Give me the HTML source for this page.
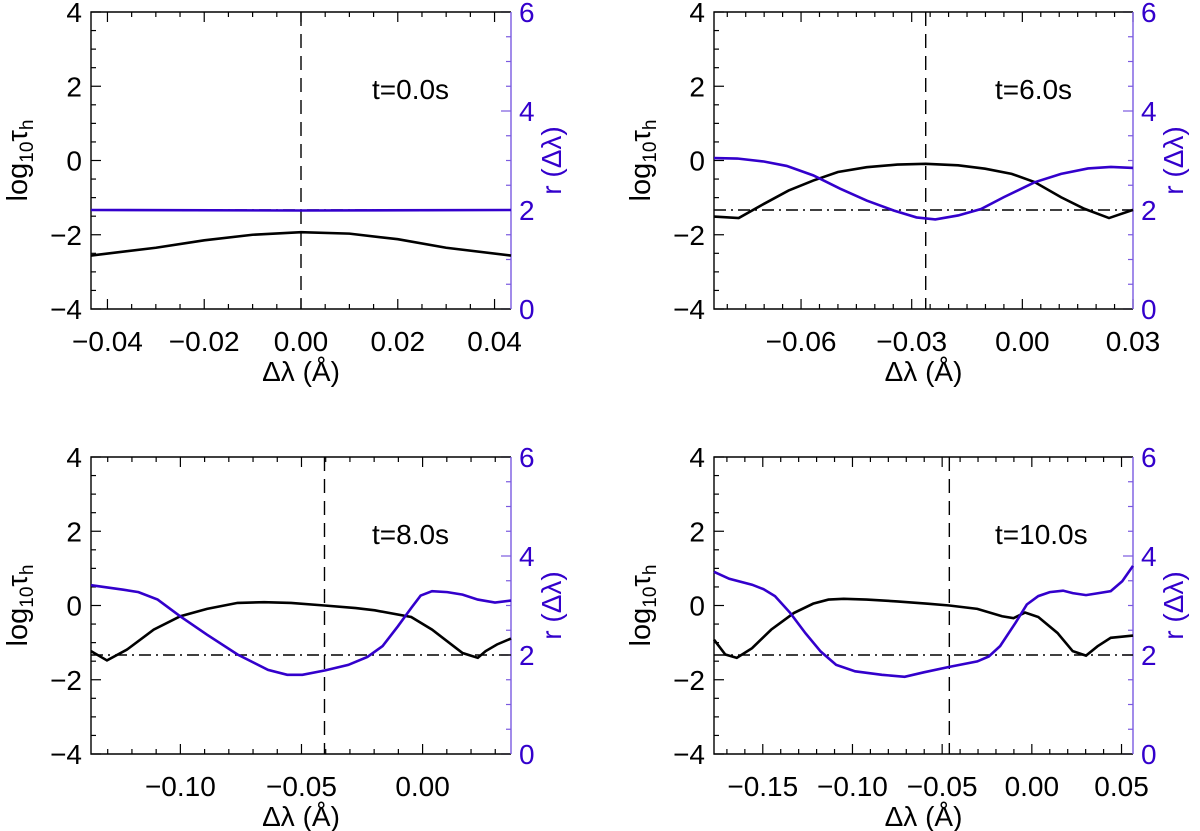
<!DOCTYPE html>
<html><head><meta charset="utf-8">
<style>
body{margin:0;background:#fff;}
svg{display:block;font-family:"Liberation Sans",Arial,sans-serif;}
</style></head>
<body>
<svg id="fig" width="1200" height="831" viewBox="0 0 1200 831" xmlns="http://www.w3.org/2000/svg"></svg>
<script>
// ---- data ----
const p1Xticks = [-0.04,-0.02,0.00,0.02,0.04];
const p1TauX = [-0.0434,-0.03,-0.02,-0.01,0,0.01,0.02,0.03,0.0434];
const p1TauY = [-2.56,-2.35,-2.15,-2.0,-1.93,-1.97,-2.12,-2.35,-2.56];
const p1RX = [-0.0434,0,0.0434];
const p1RY = [2.0,1.99,2.0];

const p2Xticks = [-0.06,-0.03,0.00,0.03];
const p2TauX = [-0.0836,-0.0769,-0.0701,-0.0634,-0.0567,-0.05,-0.0422,-0.0339,-0.0262,-0.0174,-0.0101,-0.0029,0.0033,0.0105,0.0168,0.0235,0.03];
const p2TauY = [-1.51,-1.55,-1.17,-0.81,-0.54,-0.31,-0.18,-0.11,-0.09,-0.13,-0.22,-0.36,-0.58,-0.99,-1.30,-1.55,-1.33];
const p2RX = [-0.0836,-0.0773,-0.0701,-0.0639,-0.0567,-0.0494,-0.0422,-0.0349,-0.0287,-0.0236,-0.0174,-0.0112,-0.0050,0.0033,0.0105,0.0178,0.0240,0.03];
const p2RY = [3.05,3.04,2.98,2.89,2.70,2.43,2.19,1.99,1.85,1.81,1.89,2.02,2.26,2.56,2.73,2.84,2.87,2.85];

const p3Xticks = [-0.10,-0.05,0.00];
const p3TauX = [-0.1369,-0.1303,-0.1221,-0.1110,-0.1000,-0.0890,-0.0764,-0.0654,-0.0543,-0.0405,-0.0276,-0.0197,-0.0047,0.0039,0.0165,0.0228,0.0260,0.0307,0.0365];
const p3TauY = [-1.23,-1.48,-1.19,-0.65,-0.29,-0.09,0.07,0.09,0.07,0.00,-0.07,-0.13,-0.31,-0.65,-1.28,-1.41,-1.23,-1.05,-0.89];
const p3RX = [-0.1369,-0.1236,-0.1173,-0.1094,-0.1000,-0.0890,-0.0764,-0.0638,-0.0559,-0.0496,-0.0402,-0.0307,-0.0228,-0.0165,-0.0102,-0.0047,-0.0008,0.0039,0.0102,0.0165,0.0228,0.0299,0.0365];
const p3RY = [3.41,3.32,3.27,3.12,2.78,2.41,2.01,1.70,1.60,1.60,1.69,1.80,1.96,2.18,2.58,2.95,3.20,3.29,3.27,3.22,3.12,3.06,3.10];

const p4Xticks = [-0.15,-0.10,-0.05,0.00,0.05];
const p4TauX = [-0.1772,-0.1709,-0.1645,-0.1560,-0.1453,-0.1326,-0.1219,-0.1134,-0.1049,-0.0921,-0.0751,-0.0581,-0.0460,-0.0304,-0.0166,-0.0102,-0.0038,0.0036,0.0143,0.0228,0.0302,0.0366,0.0440,0.0564];
const p4TauY = [-0.92,-1.32,-1.41,-1.15,-0.65,-0.20,0.05,0.16,0.18,0.16,0.11,0.05,0.00,-0.09,-0.29,-0.34,-0.19,-0.31,-0.74,-1.23,-1.35,-1.10,-0.87,-0.81];
const p4RX = [-0.1772,-0.1687,-0.1560,-0.1496,-0.1432,-0.1347,-0.1262,-0.1177,-0.1091,-0.0985,-0.0836,-0.0709,-0.0602,-0.0460,-0.0304,-0.0240,-0.0177,-0.0091,-0.0028,0.0036,0.0100,0.0174,0.0228,0.0302,0.0355,0.0440,0.0504,0.0564];
const p4RY = [3.68,3.54,3.42,3.33,3.19,2.85,2.44,2.07,1.80,1.67,1.60,1.56,1.65,1.76,1.87,1.97,2.18,2.65,3.02,3.19,3.27,3.30,3.25,3.21,3.24,3.29,3.49,3.80];

const xRanges = [[-0.0434,0.0434],[-0.0836,0.03],[-0.1369,0.0365],[-0.1772,0.0564]];
const xMinorStep = [0.005,0.005,0.01,0.01];
const centerLines = [0.0,-0.0262,-0.0405,-0.046];
const refLevel = -1.333;
const panelTitles = ["t=0.0s","t=6.0s","t=8.0s","t=10.0s"];

// ---- drawing ----
const NS="http://www.w3.org/2000/svg";
const svg=document.getElementById('fig');
const BLUE="#3300cc", AX2="#7a5ae0";
function mk(tag,attrs,parent){const e=document.createElementNS(NS,tag);for(const k in attrs)e.setAttribute(k,attrs[k]);(parent||svg).appendChild(e);return e;}

const boxes=[[91,12,511,309],[714,12,1133,309],[91,457,511,754],[714,457,1133,754]];
const panels=[
 {xt:p1Xticks,tx:p1TauX,ty:p1TauY,rx:p1RX,ry:p1RY},
 {xt:p2Xticks,tx:p2TauX,ty:p2TauY,rx:p2RX,ry:p2RY},
 {xt:p3Xticks,tx:p3TauX,ty:p3TauY,rx:p3RX,ry:p3RY},
 {xt:p4Xticks,tx:p4TauX,ty:p4TauY,rx:p4RX,ry:p4RY}];

panels.forEach((p,i)=>{
 const [L,T,R,B]=boxes[i];
 const [x0,x1]=xRanges[i];
 const g=mk('g',{});
 
 
 const X=v=>L+(v-x0)/(x1-x0)*(R-L);
 const Y=v=>B-(v+4)/8*(B-T);
 const Yr=v=>B-v/6*(B-T);
 const st=xMinorStep[i];
 for(let k=Math.ceil(x0/st-1e-6);k*st<=x1+1e-9;k++){
  const v=k*st; const xx=X(v);
  const maj=p.xt.some(t=>Math.abs(t-v)<1e-6);
  const len=maj?10:5;
  mk('line',{x1:xx,y1:B,x2:xx,y2:B-len,stroke:'#000','stroke-width':1.2},g);
  mk('line',{x1:xx,y1:T,x2:xx,y2:T+len,stroke:'#000','stroke-width':1.2},g);
 }
 p.xt.forEach(v=>{
  const t=mk('text',{x:X(v),y:B+42,'text-anchor':'middle','font-size':28,fill:'#000'},g);
  t.textContent=(v<0?'\u2212':'')+Math.abs(v).toFixed(2);
  
  
 });
 for(let v=-4;v<=4.001;v+=0.5){
  const maj=Math.abs(v/2-Math.round(v/2))<1e-6;
  mk('line',{x1:L,y1:Y(v),x2:L+(maj?10:5),y2:Y(v),stroke:'#000','stroke-width':1.2},g);
  if(maj){const t=mk('text',{x:L-9,y:Y(v)+10,'text-anchor':'end','font-size':28,fill:'#000'},g);
   t.textContent=(v<0?'\u2212':'')+Math.abs(v);
   
   }
 }
 for(let v=0;v<=6.001;v+=0.5){
  const maj=Math.abs(v/2-Math.round(v/2))<1e-6;
  mk('line',{x1:R,y1:Yr(v),x2:R-(maj?10:5),y2:Yr(v),stroke:AX2,'stroke-width':1.2},g);
  if(maj){const t=mk('text',{x:R+8,y:Yr(v)+10,'text-anchor':'start','font-size':28,fill:BLUE},g);
   t.textContent=String(v);
   
   }
 }
 mk('path',{d:`M${R},${T}H${L}V${B}H${R}`,fill:'none',stroke:'#000','stroke-width':1.4},g);
 mk('line',{x1:R,y1:T,x2:R,y2:B,stroke:AX2,'stroke-width':1.4},g);
 const cl=mk('line',{x1:X(centerLines[i]),y1:T,x2:X(centerLines[i]),y2:B,stroke:'#000','stroke-width':1.4,'stroke-dasharray':'14,8'},g);
 
 
 const rl=mk('line',{x1:L,y1:Y(refLevel),x2:R,y2:Y(refLevel),stroke:'#000','stroke-width':1.4,'stroke-dasharray':'12,5,2,5'},g);
 
 
 const tau=mk('polyline',{points:p.tx.map((v,j)=>X(v)+','+Y(p.ty[j])).join(' '),fill:'none',stroke:'#000','stroke-width':2.6},g);
 
 
 const rr=mk('polyline',{points:p.rx.map((v,j)=>X(v)+','+Yr(p.ry[j])).join(' '),fill:'none',stroke:BLUE,'stroke-width':2.6},g);
 
 
 const tt=mk('text',{x:L+281,y:T+87,'font-size':28,fill:'#000'},g);
 tt.textContent=panelTitles[i];
 
 
 const xl=mk('text',{x:(L+R)/2,y:B+72,'text-anchor':'middle','font-size':28,fill:'#000'},g);
 xl.textContent='\u0394\u03bb (\u00c5)';
 
 
 const cy=(T+B)/2;
 const yl=mk('text',{x:0,y:0,'text-anchor':'middle','font-size':29,fill:'#000',transform:`translate(${L-64},${cy}) rotate(-90)`},g);
 yl.innerHTML='log<tspan font-size="19" dy="6">10</tspan><tspan dy="-6">\u03c4</tspan><tspan font-size="19" dy="6">h</tspan>';
 
 
 const ry=mk('text',{x:0,y:0,'text-anchor':'middle','font-size':28,fill:BLUE,transform:`translate(${R+50},${cy}) rotate(-90)`},g);
 ry.textContent='r (\u0394\u03bb)';
 
 
});
</script>
</body></html>
